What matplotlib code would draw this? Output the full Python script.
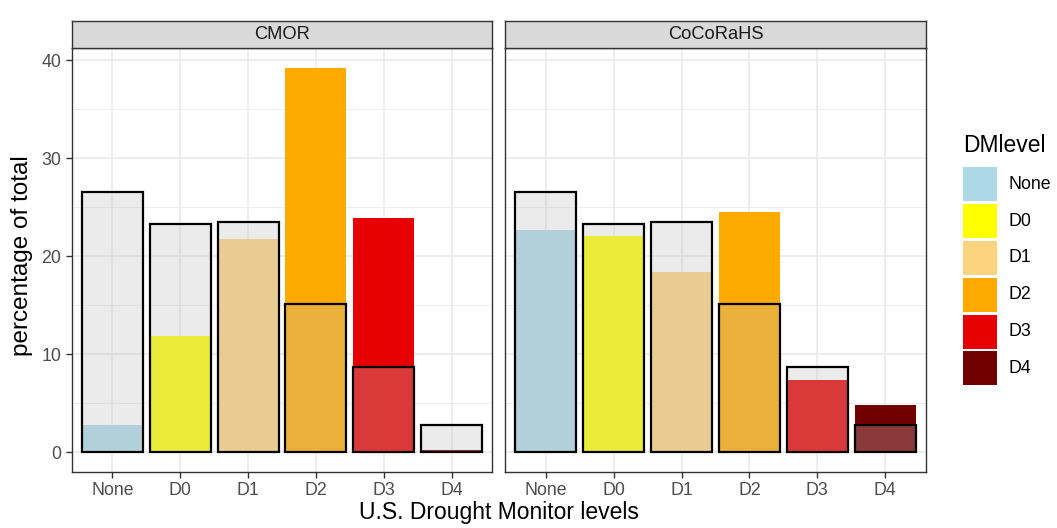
import matplotlib
matplotlib.use("Agg")
import matplotlib.pyplot as plt
from matplotlib.patches import Rectangle
import numpy as np

plt.rcParams['font.family'] = ['Liberation Sans', 'DejaVu Sans']

levels = ["None", "D0", "D1", "D2", "D3", "D4"]
colors = ["#ADD8E6", "#FFFF00", "#FCD37F", "#FFAA00", "#E60000", "#730000"]
panels = ["CMOR", "CoCoRaHS"]
cmor_pct = [2.75, 11.85, 21.8, 39.25, 23.95, 0.2]
cocorahs_pct = [22.65, 22.05, 18.4, 24.5, 7.35, 4.85]
reference_pct = [26.55, 23.25, 23.5, 15.15, 8.75, 2.8]
panel_values = [cmor_pct, cocorahs_pct]

W, H = 1057, 528
fig = plt.figure(figsize=(W / 100, H / 100), dpi=100)

def fx(px):
    return px / W

def fy(py):
    return 1 - py / H

panel_px = [(71.7, 492.3), (505, 926)]
top_px, bot_px = 48.3, 471.7
strip_top = 20.5

x = np.arange(1, len(levels) + 1)
ymax = max(max(cmor_pct), max(cocorahs_pct), max(reference_pct))
ylo, yhi = -0.05 * ymax, ymax * 1.05
dark = "#333333"
small = 12.8
big = 16.5

for i, (name, vals) in enumerate(zip(panels, panel_values)):
    l, r = panel_px[i]
    ax = fig.add_axes([fx(l), fy(bot_px), fx(r) - fx(l), fy(top_px) - fy(bot_px)])
    ax.set_xlim(0.4, 6.6)
    ax.set_ylim(ylo, yhi)
    ax.set_yticks([0, 10, 20, 30, 40])
    ax.set_yticks([5, 15, 25, 35], minor=True)
    ax.set_xticks(x)
    ax.grid(which='major', color='#EBEBEB', linewidth=1.2, zorder=0)
    ax.grid(which='minor', axis='y', color='#EBEBEB', linewidth=0.6, zorder=0)
    ax.set_axisbelow(True)
    ax.bar(x, vals, width=0.9, color=colors, linewidth=0, zorder=2)
    ax.bar(x, reference_pct, width=0.9, color=(0.745, 0.745, 0.745, 0.3),
           edgecolor='black', linewidth=1.6, zorder=3)
    for s in ax.spines.values():
        s.set_color(dark)
        s.set_linewidth(1.0)
    ax.tick_params(which='major', length=4, width=1.0, color=dark,
                   labelsize=small, labelcolor='#4D4D4D', pad=3.5)
    ax.tick_params(which='minor', length=0)
    ax.set_xticklabels(levels)
    if i == 0:
        ax.set_yticklabels(["0", "10", "20", "30", "40"])
    else:
        ax.tick_params(axis='y', which='both', left=False, labelleft=False)
    # strip
    sax = fig.add_axes([fx(l), fy(top_px), fx(r) - fx(l), fy(strip_top) - fy(top_px)])
    sax.set_xticks([])
    sax.set_yticks([])
    sax.set_facecolor('#D9D9D9')
    for s in sax.spines.values():
        s.set_color(dark)
        s.set_linewidth(1.0)
    sax.text(0.5, 0.48, name, ha='center', va='center', fontsize=13.2, color='#1A1A1A',
             transform=sax.transAxes)

fig.text(fx((71.7 + 926) / 2), fy(512), "U.S. Drought Monitor levels", ha='center',
         va='center', fontsize=big, color='black')
fig.text(fx(22), fy(256), "percentage of total", ha='center',
         va='center', rotation=90, fontsize=17.5, color='black')

# legend
fig.text(fx(963), fy(145), "DMlevel", ha='left', va='center', fontsize=big, color='black')
key_w, key_h, step = 34, 34, 36.8
for j, (lab, c) in enumerate(zip(levels, colors)):
    top = 167.3 + j * step
    fig.patches.append(Rectangle((fx(963), fy(top + key_h)), fx(key_w), key_h / H,
                                 transform=fig.transFigure, facecolor=c, edgecolor='none'))
    fig.text(fx(1009), fy(top + key_h / 2), lab, ha='left', va='center',
             fontsize=small, color='black')

fig.savefig("out.png", dpi=100)
